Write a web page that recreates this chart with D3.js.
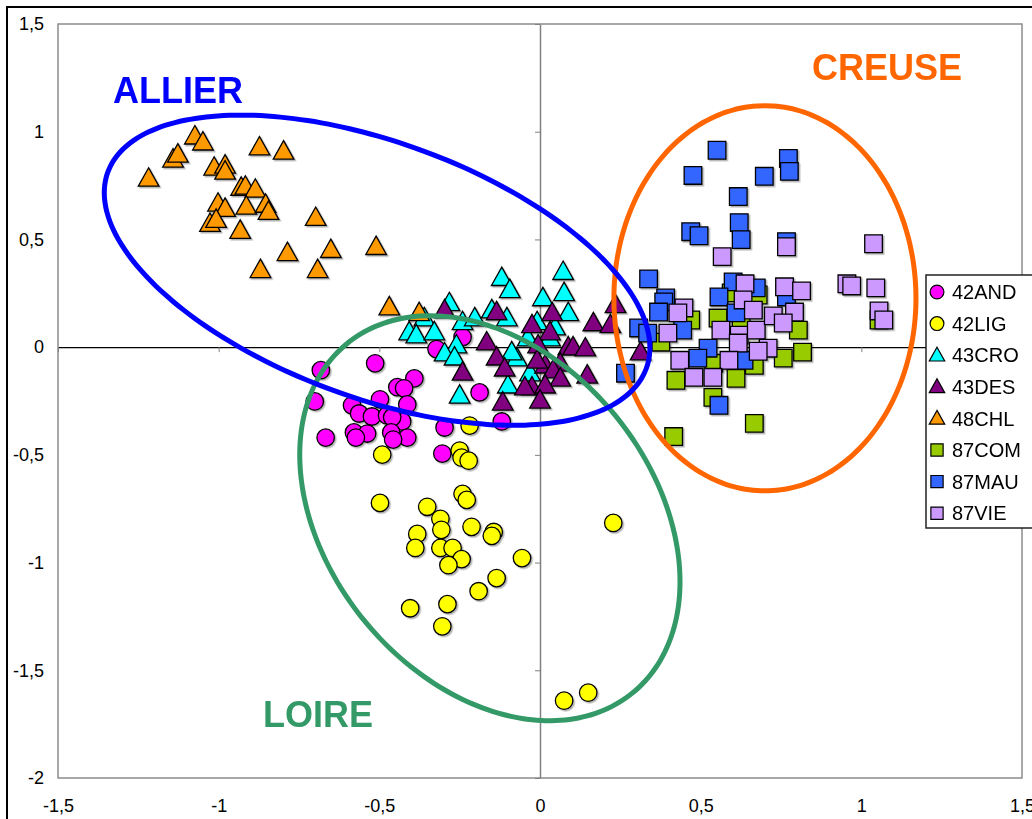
<!DOCTYPE html>
<html>
<head>
<meta charset="utf-8">
<script src="https://cdn.jsdelivr.net/npm/d3@7"></script>
<style>
  body { margin: 0; background: #fff; }
  svg { display: block; font-family: "Liberation Sans", Arial, sans-serif; }
</style>
</head>
<body>
<div id="chart"></div>
<script>
// series, in legend / drawing order
const seriesNames = ["42AND", "42LIG", "43CRO", "43DES", "48CHL", "87COM", "87MAU", "87VIE"];
const seriesShapes = ["circle", "circle", "triangle", "triangle", "triangle", "square", "square", "square"];
const seriesColors = ["#ff00ff", "#ffff00", "#00ffff", "#800080", "#ff9900", "#99cc00", "#3366ff", "#cc99ff"];

const and42 = [[-0.241,0.047],[-0.322,-0.009],[-0.513,-0.075],[-0.682,-0.107],[-0.701,-0.252],[-0.391,-0.145],
  [-0.444,-0.186],[-0.423,-0.191],[-0.413,-0.266],[-0.498,-0.242],[-0.585,-0.270],[-0.563,-0.308],[-0.523,-0.322],
  [-0.476,-0.317],[-0.429,-0.345],[-0.460,-0.326],[-0.579,-0.396],[-0.538,-0.401],[-0.463,-0.396],[-0.413,-0.420],
  [-0.667,-0.420],[-0.573,-0.420],[-0.188,-0.210],[-0.297,-0.373],[-0.119,-0.345],[-0.457,-0.429],[-0.304,-0.494]];
const lig42 = [[-0.491,-0.499],[-0.250,-0.480],[-0.244,-0.513],[-0.222,-0.527],[-0.241,-0.681],[-0.228,-0.709],
  [-0.498,-0.723],[-0.351,-0.741],[-0.310,-0.797],[-0.307,-0.848],[-0.213,-0.834],[-0.144,-0.858],[-0.150,-0.876],
  [-0.382,-0.867],[-0.388,-0.932],[-0.310,-0.932],[-0.272,-0.932],[-0.244,-0.984],[-0.285,-1.012],[-0.056,-0.979],
  [-0.135,-1.072],[-0.191,-1.133],[-0.404,-1.212],[-0.288,-1.193],[-0.304,-1.296],[0.228,-0.816],[0.075,-1.641],
  [0.150,-1.604],[-0.219,-0.364]];
const cro43 = [[-0.119,0.322],[-0.094,0.266],[0.072,0.350],[0.075,0.252],[0.009,0.228],[0.088,0.159],[-0.282,0.205],
  [-0.360,0.135],[-0.407,0.070],[-0.385,0.056],[-0.329,0.070],[-0.241,0.117],[-0.203,0.135],[-0.150,0.172],
  [-0.103,0.135],[-0.009,0.117],[0.047,0.093],[-0.038,0.042],[0.031,0.042],[-0.260,0.009],[-0.297,-0.028],
  [-0.266,-0.047],[-0.072,-0.051],[-0.088,-0.023],[-0.031,-0.121],[-0.100,-0.177],[-0.250,-0.224]];
const des43 = [[-0.297,0.172],[-0.135,0.163],[-0.166,0.023],[-0.025,0.103],[0.038,0.159],[0.031,0.070],[0.166,0.112],
  [0.219,0.103],[0.235,0.196],[-0.006,0.009],[0.088,0.000],[0.103,0.000],[0.141,-0.005],[-0.135,-0.047],
  [-0.110,-0.098],[-0.241,-0.117],[0.063,-0.075],[0.016,-0.084],[0.041,-0.107],[0.063,-0.145],[0.147,-0.131],
  [-0.025,-0.186],[0.016,-0.177],[-0.047,-0.186],[0.000,-0.247],[-0.116,-0.256],[0.313,-0.023],[-0.009,-0.061]];
const chl48 = [[-1.074,0.979],[-1.049,0.951],[-1.142,0.872],[-1.127,0.895],[-0.873,0.928],[-0.798,0.909],
  [-1.014,0.834],[-0.980,0.844],[-0.980,0.816],[-1.218,0.783],[-0.930,0.741],[-0.917,0.746],[-0.886,0.732],
  [-1.002,0.667],[-0.980,0.643],[-0.914,0.653],[-0.854,0.662],[-0.845,0.629],[-0.698,0.601],[-1.027,0.573],
  [-1.008,0.592],[-0.933,0.541],[-0.786,0.438],[-0.651,0.452],[-0.510,0.466],[-0.870,0.359],[-0.692,0.359],
  [-0.469,0.186],[-0.376,0.159]];
const com87 = [[0.554,0.135],[0.376,0.023],[0.423,-0.154],[0.538,-0.233],[0.610,-0.145],[0.667,-0.354],[0.416,-0.415],
  [0.804,0.079],[0.817,-0.023],[0.757,-0.051],[0.667,-0.084],[0.541,-0.075],[0.626,0.112],[1.055,0.126],
  [0.595,0.252],[0.679,0.242],[0.469,0.126]];
const mau87 = [[0.551,0.914],[0.773,0.876],[0.776,0.816],[0.476,0.797],[0.698,0.793],[0.617,0.699],[0.620,0.578],
  [0.469,0.536],[0.495,0.517],[0.626,0.499],[0.767,0.490],[0.338,0.317],[0.601,0.303],[0.673,0.275],[0.557,0.233],
  [0.391,0.228],[0.385,0.210],[0.369,0.163],[0.307,0.089],[0.335,0.065],[0.444,0.079],[0.610,0.159],[0.523,-0.005],
  [0.491,-0.051],[0.635,-0.061],[0.557,-0.270],[0.266,-0.121],[0.767,0.233]];
const vie87 = [[0.567,0.420],[0.767,0.466],[1.038,0.480],[0.638,0.294],[0.761,0.280],[0.814,0.261],[0.955,0.294],
  [0.970,0.284],[1.045,0.275],[0.448,0.182],[0.429,0.159],[0.398,0.065],[0.632,0.219],[0.664,0.172],[0.563,0.079],
  [0.620,0.056],[0.617,0.019],[0.673,0.079],[0.726,0.145],[0.792,0.163],[0.757,0.112],[1.055,0.168],[1.070,0.126],
  [0.710,-0.005],[0.679,-0.019],[0.588,-0.061],[0.435,-0.061],[0.479,-0.140],[0.538,-0.140]];
const seriesValues = [and42, lig42, cro43, des43, chl48, com87, mau87, vie87];

// group ellipses: centre, then two conjugate half-axis vectors, in data units
const groupNames = ["CREUSE", "LOIRE", "ALLIER"];
const groupColors = ["#ff6600", "#339966", "#0000ff"];
const groupCentres = [[0.700, 0.227], [-0.156, -0.794], [-0.507, 0.357]];
const groupAxisU = [[0.470, 0], [0.445, -0.810], [0.838, -0.455]];
const groupAxisV = [[0, -0.894], [-0.390, -0.477], [-0.136, -0.558]];
const groupLabelPos = [[812, 80], [263, 727], [113, 103]];

const xTicks = [-1.5, -1, -0.5, 0, 0.5, 1, 1.5];
const yTicks = [-2, -1.5, -1, -0.5, 0, 0.5, 1, 1.5];

const width = 1032, height = 819;
const plot = { left: 58, right: 1022, top: 24, bottom: 778 };

const svg = d3.select("#chart").append("svg")
    .attr("width", width)
    .attr("height", height);

const defs = svg.append("defs");
defs.append("filter")
    .attr("id", "shadow")
    .attr("x", "-30%").attr("y", "-30%").attr("width", "170%").attr("height", "170%")
  .append("feDropShadow")
    .attr("dx", 1.5).attr("dy", 1.5).attr("stdDeviation", 0.7)
    .attr("flood-color", "#000").attr("flood-opacity", 0.3);

// chart frame
svg.append("rect")
    .attr("x", 7).attr("y", 7)
    .attr("width", 1060).attr("height", 840)
    .attr("fill", "#fff").attr("stroke", "#000").attr("stroke-width", 2);

svg.append("rect")
    .attr("x", plot.left).attr("y", plot.top)
    .attr("width", plot.right - plot.left).attr("height", plot.bottom - plot.top)
    .attr("fill", "#fff").attr("stroke", "#8c8c8c").attr("stroke-width", 1.5);

const x = d3.scaleLinear().domain([-1.5, 1.5]).range([plot.left, plot.right]);
const y = d3.scaleLinear().domain([-2, 1.5]).range([plot.bottom, plot.top]);
const fmt = d => String(d).replace(".", ",");

// tick labels sit at the low edges of the plot
svg.append("g")
    .attr("transform", `translate(0,${plot.bottom})`)
    .call(d3.axisBottom(x).tickValues(xTicks).tickFormat(fmt).tickSize(0).tickPadding(21))
    .call(g => g.select(".domain").remove())
    .call(g => g.selectAll("text").attr("font-size", 18).attr("fill", "#000").attr("font-family", "Liberation Sans, Arial, sans-serif"));

svg.append("g")
    .attr("transform", `translate(${plot.left},0)`)
    .call(d3.axisLeft(y).tickValues(yTicks).tickFormat(fmt).tickSize(0).tickPadding(14))
    .call(g => g.select(".domain").remove())
    .call(g => g.selectAll("text").attr("font-size", 18).attr("fill", "#000").attr("font-family", "Liberation Sans, Arial, sans-serif"));

// zero lines with their tick marks
svg.append("g")
    .attr("transform", `translate(0,${y(0)})`)
    .call(d3.axisBottom(x).tickValues(xTicks).tickFormat("").tickSize(5).tickSizeOuter(0))
    .call(g => g.select(".domain").attr("stroke", "#000").attr("stroke-width", 1.3))
    .call(g => g.selectAll(".tick line").attr("stroke", "#808080"));

svg.append("g")
    .attr("transform", `translate(${x(0)},0)`)
    .call(d3.axisLeft(y).tickValues(yTicks).tickFormat("").tickSize(5).tickSizeOuter(0))
    .call(g => g.select(".domain").attr("stroke", "#808080").attr("stroke-width", 1.5))
    .call(g => g.selectAll(".tick line").attr("stroke", "#808080"));

const symbolFor = (shape, size) => {
    if (shape === "circle") return d3.symbol(d3.symbolCircle, size)();
    if (shape === "square") return d3.symbol(d3.symbolSquare, size)();
    const s = Math.sqrt(size);
    return `M0,${-s * 0.58}L${s * 0.56},${s * 0.42}L${-s * 0.56},${s * 0.42}Z`;
};

const sizeFor = shape => shape === "circle" ? 240 : shape === "square" ? 310 : 340;

const points = svg.append("g").attr("filter", "url(#shadow)");
seriesNames.forEach((name, i) => {
    points.append("g")
        .selectAll("path")
        .data(seriesValues[i])
        .join("path")
        .attr("transform", d => `translate(${x(d[0])},${y(d[1])})`)
        .attr("d", symbolFor(seriesShapes[i], sizeFor(seriesShapes[i])))
        .attr("fill", seriesColors[i])
        .attr("stroke", "#000")
        .attr("stroke-width", 1.3);
});

// group ellipses
const steps = d3.range(0, 120).map(k => k / 120 * 2 * Math.PI);
const ellipseLine = d3.line()
    .x(p => x(p[0]))
    .y(p => y(p[1]))
    .curve(d3.curveCardinalClosed);

groupNames.forEach((name, i) => {
    const c = groupCentres[i], u = groupAxisU[i], v = groupAxisV[i];
    const pts = steps.map(t => [c[0] + u[0] * Math.cos(t) + v[0] * Math.sin(t),
                                c[1] + u[1] * Math.cos(t) + v[1] * Math.sin(t)]);
    svg.append("path")
        .attr("d", ellipseLine(pts))
        .attr("fill", "none")
        .attr("stroke", groupColors[i])
        .attr("stroke-width", 5);
    svg.append("text")
        .attr("x", groupLabelPos[i][0])
        .attr("y", groupLabelPos[i][1])
        .attr("font-size", 36)
        .attr("font-weight", "bold")
        .attr("fill", groupColors[i])
        .text(name);
});

// legend
const legend = svg.append("g");
legend.append("rect")
    .attr("x", 926).attr("y", 275)
    .attr("width", 140).attr("height", 253)
    .attr("fill", "#fff").attr("stroke", "#222").attr("stroke-width", 1.5);

const legendItem = legend.selectAll("g.item")
    .data(seriesNames)
    .join("g")
    .attr("class", "item")
    .attr("transform", (d, i) => `translate(937,${292 + i * 31.6})`);

legendItem.append("path")
    .attr("d", (d, i) => symbolFor(seriesShapes[i], seriesShapes[i] === "triangle" ? 190 : 150))
    .attr("fill", (d, i) => seriesColors[i])
    .attr("stroke", "#000")
    .attr("stroke-width", 1.2);

legendItem.append("text")
    .attr("x", 15)
    .attr("dy", "0.36em")
    .attr("font-size", 20)
    .attr("fill", "#000")
    .text(d => d);
</script>
</body>
</html>
